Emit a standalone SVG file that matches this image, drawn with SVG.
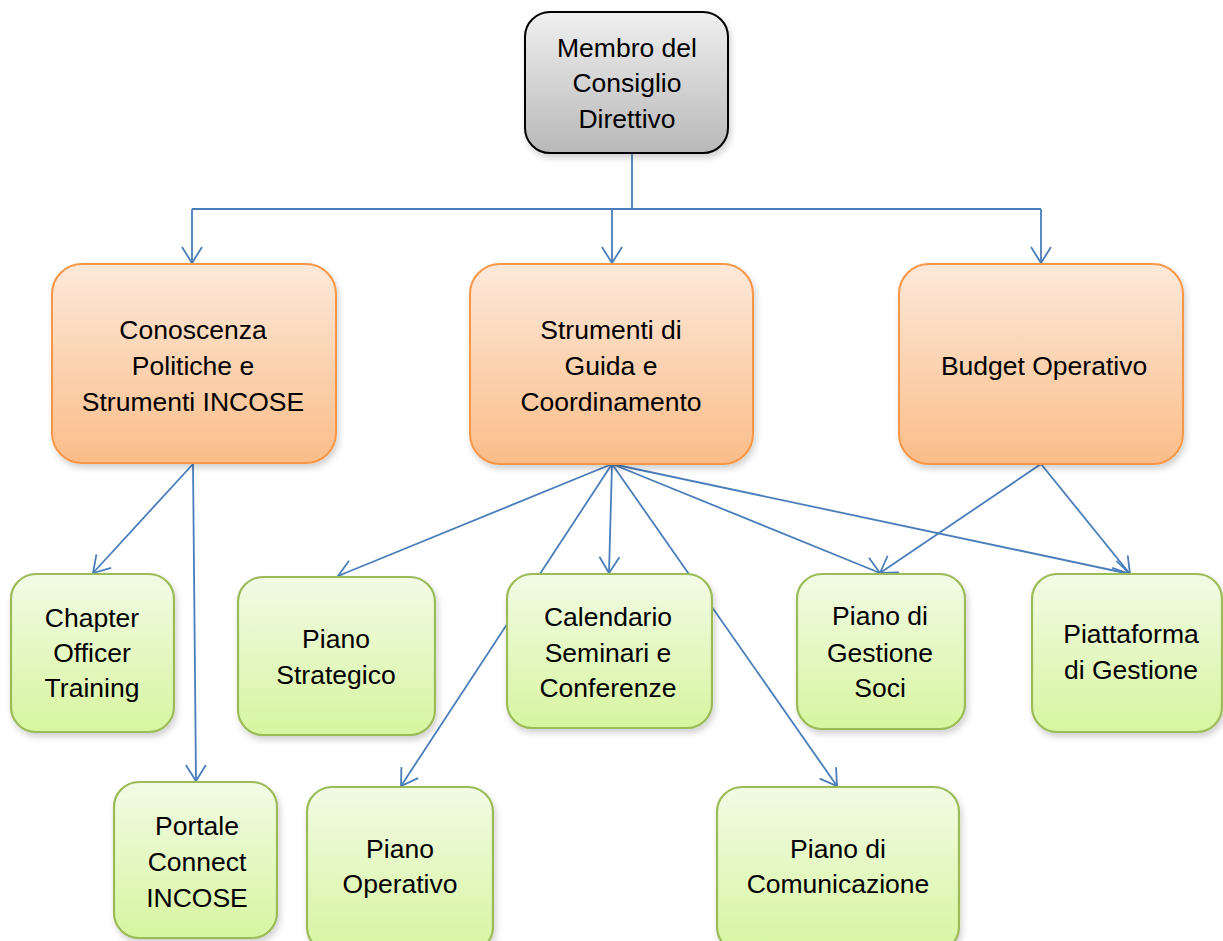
<svg xmlns="http://www.w3.org/2000/svg" width="1223" height="941" viewBox="0 0 1223 941">
<defs>
<linearGradient id="gGray" x1="0" y1="0" x2="0" y2="1"><stop offset="0" stop-color="#f0f0f0"/><stop offset="1" stop-color="#b8b8b8"/></linearGradient>
<linearGradient id="gOrange" x1="0" y1="0" x2="0" y2="1"><stop offset="0" stop-color="#fde9da"/><stop offset="1" stop-color="#fbbd89"/></linearGradient>
<linearGradient id="gGreen" x1="0" y1="0" x2="0" y2="1"><stop offset="0" stop-color="#f2fbe5"/><stop offset="1" stop-color="#d7f5a0"/></linearGradient>
<filter id="sh" x="-10%" y="-10%" width="125%" height="130%"><feDropShadow dx="2" dy="4" stdDeviation="3" flood-color="#000" flood-opacity="0.18"/></filter>
<marker id="arr" viewBox="0 0 20 24" refX="18" refY="12" markerWidth="20" markerHeight="24" markerUnits="userSpaceOnUse" orient="auto"><path d="M2,2 L18,12 L2,22" fill="none" stroke="#4a7ebb" stroke-width="1.8"/></marker>
</defs>
<style>
.c{fill:none;stroke:#4a7ebb;stroke-width:1.8}
.a{marker-end:url(#arr)}
.gray{fill:url(#gGray);stroke:#000;stroke-width:2;filter:url(#sh)}
.org{fill:url(#gOrange);stroke:#f79646;stroke-width:2;filter:url(#sh)}
.grn{fill:url(#gGreen);stroke:#9bbb59;stroke-width:2.2;filter:url(#sh)}
text{font-family:"Liberation Sans",Arial,sans-serif;font-size:26.5px;fill:#000;text-anchor:middle}
</style>
<rect width="1223" height="941" fill="#fff"/>
<g id="connectors">
<path class="c" d="M632,153 V209 M192,209 H1041"/>
<path class="c a" d="M192,209 V263"/>
<path class="c a" d="M612,209 V263"/>
<path class="c a" d="M1041,209 V263"/>
<line class="c a" x1="193" y1="464" x2="93" y2="573"/>
<line class="c a" x1="193" y1="464" x2="196" y2="781"/>
<line class="c a" x1="612" y1="464" x2="338" y2="576"/>
<line class="c a" x1="612" y1="464" x2="609" y2="573"/>
<line class="c a" x1="612" y1="464" x2="401" y2="786"/>
<line class="c a" x1="612" y1="464" x2="837" y2="786"/>
<line class="c a" x1="612" y1="464" x2="880" y2="573"/>
<line class="c a" x1="612" y1="464" x2="1130" y2="574"/>
<line class="c a" x1="1041" y1="464" x2="880" y2="573"/>
<line class="c a" x1="1041" y1="464" x2="1130" y2="574"/>
</g>
<g id="n-membro"><rect class="gray" x="525" y="12" width="203" height="141" rx="25"/><text x="627" y="57">Membro del</text><text x="627" y="92">Consiglio</text><text x="627" y="128">Direttivo</text></g>
<g id="n-conoscenza"><rect class="org" x="52" y="264" width="284" height="199" rx="30"/><text x="193" y="339">Conoscenza</text><text x="193" y="375">Politiche e</text><text x="193" y="411">Strumenti INCOSE</text></g>
<g id="n-strumenti"><rect class="org" x="470" y="264" width="283" height="200" rx="30"/><text x="611" y="339">Strumenti di</text><text x="611" y="375">Guida e</text><text x="611" y="411">Coordinamento</text></g>
<g id="n-budget"><rect class="org" x="899" y="264" width="284" height="200" rx="30"/><text x="1044" y="375">Budget Operativo</text></g>
<g id="n-chapter"><rect class="grn" x="11" y="574" width="163" height="158" rx="25"/><text x="92" y="627">Chapter</text><text x="92" y="662">Officer</text><text x="92" y="697">Training</text></g>
<g id="n-strategico"><rect class="grn" x="238" y="577" width="197" height="158" rx="25"/><text x="336" y="648">Piano</text><text x="336" y="684">Strategico</text></g>
<g id="n-calendario"><rect class="grn" x="507" y="574" width="205" height="154" rx="25"/><text x="608" y="626">Calendario</text><text x="608" y="662">Seminari e</text><text x="608" y="697">Conferenze</text></g>
<g id="n-soci"><rect class="grn" x="797" y="574" width="168" height="155" rx="25"/><text x="880" y="625">Piano di</text><text x="880" y="662">Gestione</text><text x="880" y="697">Soci</text></g>
<g id="n-piattaforma"><rect class="grn" x="1032" y="574" width="190" height="158" rx="25"/><text x="1131" y="643">Piattaforma</text><text x="1131" y="679">di Gestione</text></g>
<g id="n-portale"><rect class="grn" x="114" y="782" width="163" height="156" rx="25"/><text x="197" y="835">Portale</text><text x="197" y="871">Connect</text><text x="197" y="907">INCOSE</text></g>
<g id="n-operativo"><rect class="grn" x="307" y="787" width="186" height="165" rx="25"/><text x="400" y="858">Piano</text><text x="400" y="893">Operativo</text></g>
<g id="n-comunicazione"><rect class="grn" x="717" y="787" width="242" height="165" rx="25"/><text x="838" y="858">Piano di</text><text x="838" y="893">Comunicazione</text></g>
</svg>
